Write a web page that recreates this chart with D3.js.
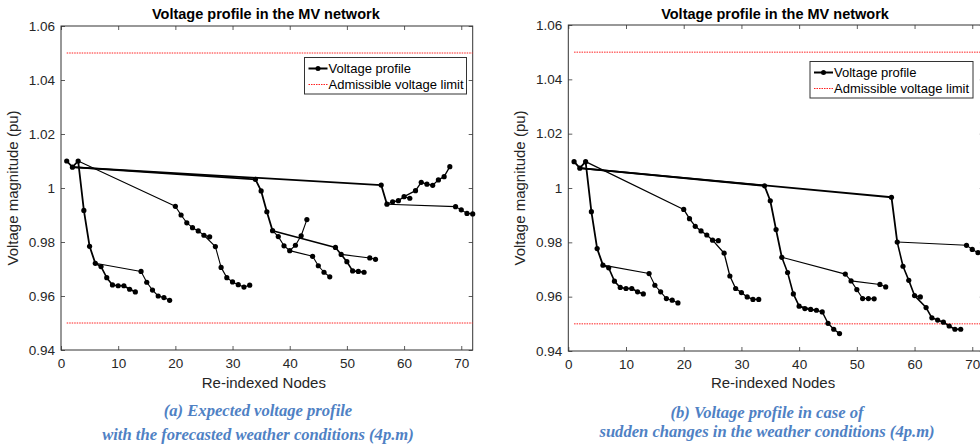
<!DOCTYPE html>
<html>
<head>
<meta charset="utf-8">
<script src="https://cdn.jsdelivr.net/npm/d3@7"></script>
<style>
  body { margin: 0; background: #fff; }
  text { font-family: "Liberation Sans", Arial, sans-serif; }
  text.caption { font-family: "Liberation Serif", "Times New Roman", serif; }
</style>
</head>
<body>
<svg class="profile"></svg>
<script>
// re-indexed node numbers
const nodeIds = [1, 2, 3, 4, 5, 6, 7, 8, 9, 10, 11, 12, 13, 14, 15, 16, 17, 18,
	19, 20, 21, 22, 23, 24, 25, 26, 27, 28, 29, 30, 31, 32, 33, 34, 35, 36,
	37, 38, 39, 40, 41, 42, 43, 44, 45, 46, 47, 48, 49, 50, 51, 52, 53, 54,
	55, 56, 57, 58, 59, 60, 61, 62, 63, 64, 65, 66, 67, 68, 69, 70, 71, 72];

// (a) expected profile, forecasted weather
const voltageA = [1.0100, 1.0077, 1.0100, 0.9917, 0.9784, 0.9721, 0.9709, 0.9668, 0.9641, 0.9638,
	0.9638, 0.9625, 0.9615, 0.9691, 0.9651, 0.9622, 0.9600, 0.9594, 0.9584, 0.9932,
	0.9900, 0.9871, 0.9853, 0.9841, 0.9825, 0.9819, 0.9783, 0.9706, 0.9668, 0.9652,
	0.9642, 0.9633, 0.9640, 1.0032, 0.9989, 0.9912, 0.9842, 0.9820, 0.9786, 0.9768,
	0.9788, 0.9823, 0.9883, 0.9747, 0.9712, 0.9688, 0.9671, 0.9780, 0.9754, 0.9727,
	0.9693, 0.9691, 0.9688, 0.9741, 0.9736, 1.0011, 0.9940, 0.9949, 0.9953, 0.9968,
	0.9962, 0.9990, 1.0021, 1.0014, 1.0010, 1.0030, 1.0042, 1.0079, 0.9931, 0.9919,
	0.9906, 0.9904];

// (b) sudden weather change
const voltageB = [1.0097, 1.0073, 1.0097, 0.9913, 0.9777, 0.9716, 0.9706, 0.9657, 0.9634, 0.9630,
	0.9630, 0.9618, 0.9610, 0.9685, 0.9642, 0.9618, 0.9593, 0.9587, 0.9577, 0.9921,
	0.9887, 0.9859, 0.9842, 0.9827, 0.9808, 0.9806, 0.9760, 0.9676, 0.9630, 0.9615,
	0.9599, 0.9590, 0.9590, 1.0008, 0.9953, 0.9847, 0.9745, 0.9689, 0.9610, 0.9565,
	0.9556, 0.9553, 0.9550, 0.9544, 0.9502, 0.9480, 0.9464, 0.9683, 0.9658, 0.9626,
	0.9593, 0.9593, 0.9592, 0.9645, 0.9636, 0.9966, 0.9801, 0.9712, 0.9660, 0.9604,
	0.9599, 0.9560, 0.9522, 0.9514, 0.9506, 0.9492, 0.9480, 0.9480, 0.9789, 0.9774,
	0.9762, 0.9755];

// feeder sections, as node sequences
const branches = [
	[1, 2, 3, 4, 5, 6],
	[6, 7, 8, 9, 10, 11, 12, 13],
	[6, 14, 15, 16, 17, 18, 19],
	[3, 20, 21, 22, 23, 24, 25, 26],
	[25, 27, 28, 29, 30, 31, 32, 33],
	[2, 34, 35, 36, 37],
	[37, 48, 49, 50, 51, 52, 53],
	[37, 38, 39, 40, 41, 42, 43],
	[40, 44, 45, 46, 47],
	[49, 54, 55],
	[2, 56, 57],
	[57, 58, 59, 60, 62, 63, 64, 65, 66, 67, 68],
	[60, 61],
	[57, 69, 70, 71, 72]
];

const limits = [1.05, 0.95];
const xTicks = [0, 10, 20, 30, 40, 50, 60, 70];
const yTicks = [0.94, 0.96, 0.98, 1, 1.02, 1.04, 1.06];
const legendLabels = ['Voltage profile', 'Admissible voltage limit'];
const titleText = 'Voltage profile in the MV network';
const captionsA = ['(a) Expected voltage profile', 'with the forecasted weather conditions (4p.m)'];
const captionsB = ['(b) Voltage profile in case of', 'sudden changes in the weather conditions (4p.m)'];

const svg = d3.select('.profile')
	.attr('width', 980)
	.attr('height', 446);

const panels = [
	{ volts: voltageA, left: 61, right: 472.7, top: 26, bottom: 350,
		widths: [1.8, 1.6, 1.1, 1.1, 1.1, 1.8, 1.6, 1.1, 1.1, 1.1, 1.8, 1.3, 1.1, 1.1],
		legend: { x: 304.5, y: 57.5, w: 162, h: 36.5 },
		ylabX: 18, captions: captionsA, capX: 258, capY: [416, 440] },
	{ volts: voltageB, left: 568.3, right: 983.8, top: 25, bottom: 351,
		widths: [1.8, 1.6, 1.1, 1.3, 1.3, 1.8, 1.1, 1.6, 1.4, 1.1, 1.8, 1.6, 1.3, 1.1],
		legend: { x: 810, y: 61.5, w: 163, h: 36.5 },
		ylabX: 525, captions: captionsB, capX: 767, capY: [418, 437] }
];

const render = p => {
	const xScale = d3.scaleLinear().domain([0, 72]).range([p.left, p.right]);
	const yScale = d3.scaleLinear().domain([0.94, 1.06]).range([p.bottom, p.top]);
	const innerW = p.right - p.left;
	const innerH = p.bottom - p.top;
	const g = svg.append('g');

	const fmt = d => String(+d.toFixed(2));

	// axes, MATLAB style inward ticks on all four sides
	g.append('g')
		.attr('transform', `translate(0, ${p.bottom})`)
		.call(d3.axisBottom(xScale).tickValues(xTicks).tickSizeInner(-4).tickSizeOuter(0).tickPadding(8));
	g.append('g')
		.attr('transform', `translate(0, ${p.top})`)
		.call(d3.axisTop(xScale).tickValues(xTicks).tickSizeInner(-4).tickSizeOuter(0).tickFormat(''));
	g.append('g')
		.attr('transform', `translate(${p.left}, 0)`)
		.call(d3.axisLeft(yScale).tickValues(yTicks).tickSizeInner(-4).tickSizeOuter(0).tickFormat(fmt).tickPadding(6));
	g.append('g')
		.attr('transform', `translate(${p.right}, 0)`)
		.call(d3.axisRight(yScale).tickValues(yTicks).tickSizeInner(-4).tickSizeOuter(0).tickFormat(''));

	g.selectAll('.domain').remove();
	g.selectAll('.tick line').attr('stroke', '#333').attr('stroke-width', 0.8);
	g.selectAll('.tick text')
		.attr('font-size', 13.5)
		.attr('fill', '#262626');

	g.append('rect')
		.attr('x', p.left)
		.attr('y', p.top)
		.attr('width', innerW)
		.attr('height', innerH)
		.attr('fill', 'none')
		.attr('stroke', '#333')
		.attr('stroke-width', 1);

	// admissible limits
	g.selectAll('.limit')
		.data(limits)
		.enter()
		.append('line')
			.attr('x1', xScale(1))
			.attr('x2', xScale(72))
			.attr('y1', d => yScale(d))
			.attr('y2', d => yScale(d))
			.attr('stroke', '#ff2020')
			.attr('stroke-width', 1)
			.attr('stroke-dasharray', '1.5,1');

	// voltage profile
	const line = d3.line()
		.x(n => xScale(n))
		.y(n => yScale(p.volts[nodeIds.indexOf(n)]));

	g.selectAll('.branch')
		.data(branches)
		.enter()
		.append('path')
			.attr('d', line)
			.attr('fill', 'none')
			.attr('stroke', '#000')
			.attr('stroke-width', (d, i) => p.widths[i])
			.attr('stroke-linejoin', 'round');

	g.selectAll('.node')
		.data(nodeIds)
		.enter()
		.append('circle')
			.attr('cx', n => xScale(n))
			.attr('cy', (n, i) => yScale(p.volts[i]))
			.attr('r', 2.6)
			.attr('fill', '#000');

	// titles and labels
	g.append('text')
		.attr('x', p.left + innerW / 2 - 1)
		.attr('y', 19)
		.attr('text-anchor', 'middle')
		.attr('font-size', 14.5)
		.attr('font-weight', 'bold')
		.text(titleText);

	g.append('text')
		.attr('x', p.left + innerW / 2 - 3)
		.attr('y', 388)
		.attr('text-anchor', 'middle')
		.attr('font-size', 15)
		.attr('fill', '#262626')
		.text('Re-indexed Nodes');

	g.append('text')
		.attr('transform', `translate(${p.ylabX}, ${(p.top + p.bottom) / 2}) rotate(-90)`)
		.attr('text-anchor', 'middle')
		.attr('font-size', 15)
		.attr('fill', '#262626')
		.text('Voltage magnitude (pu)');

	// legend
	const lg = g.append('g').attr('transform', `translate(${p.legend.x}, ${p.legend.y})`);
	lg.append('rect')
		.attr('width', p.legend.w)
		.attr('height', p.legend.h)
		.attr('fill', '#fff')
		.attr('stroke', '#333')
		.attr('stroke-width', 1);
	lg.append('line')
		.attr('x1', 4).attr('x2', 23)
		.attr('y1', 11).attr('y2', 11)
		.attr('stroke', '#000').attr('stroke-width', 2);
	lg.append('circle')
		.attr('cx', 13.5).attr('cy', 11).attr('r', 2.5).attr('fill', '#000');
	lg.append('line')
		.attr('x1', 4).attr('x2', 23)
		.attr('y1', 27).attr('y2', 27)
		.attr('stroke', '#ff2020').attr('stroke-width', 1).attr('stroke-dasharray', '1.5,1');
	lg.selectAll('.lbl')
		.data(legendLabels)
		.enter()
		.append('text')
			.attr('x', 24)
			.attr('y', (d, i) => 15.5 + i * 16)
			.attr('font-size', 13)
			.text(d => d);

	// captions
	g.selectAll('.caption')
		.data(p.captions)
		.enter()
		.append('text')
			.attr('class', 'caption')
			.attr('x', p.capX)
			.attr('y', (d, i) => p.capY[i])
			.attr('text-anchor', 'middle')
			.attr('font-style', 'italic')
			.attr('font-weight', 'bold')
			.attr('font-size', 16.6)
			.attr('fill', '#4f81c4')
			.text(d => d);
};

panels.forEach(render);
</script>
</body>
</html>
